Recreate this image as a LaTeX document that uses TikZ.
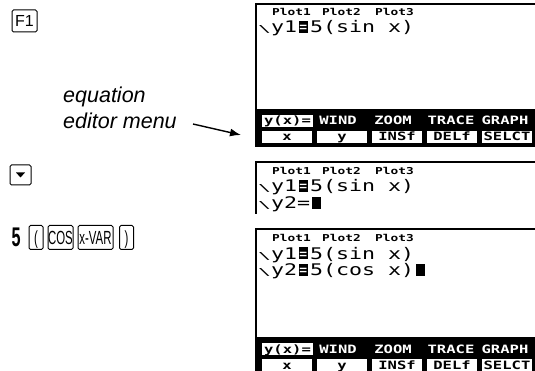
\documentclass[tikz,border=0pt]{standalone}
\usepackage{fontspec}
\usepackage{graphicx}
\setmainfont{Liberation Sans}
\newfontfamily\keyfont[FakeStretch=0.6]{Liberation Sans}
\newfontfamily\lcdfont[FakeStretch=1.35]{DejaVu Sans Mono}
\usetikzlibrary{arrows.meta}
\newcommand\slsh{\scalebox{1}[0.6]{\textbackslash}}
\newcommand\hleq{\rlap{\setlength{\fboxsep}{0pt}\hspace{0.1em}\colorbox{black}{\makebox[0.55em]{\textcolor{white}{\scalebox{0.6}[1]{=}}}\rule{0pt}{0.73em}}}\phantom{=}}
\newcommand\blk{\rlap{\hspace{0.1em}\rule{0.55em}{0.73em}}\phantom{=}}
\begin{document}
\begin{tikzpicture}[x=1pt,y=-1pt,
	key/.style={draw,line width=1pt,rounded corners=1.5pt,inner sep=0pt,minimum height=24pt,
		text height=13.6pt,text depth=0pt,font=\keyfont\fontsize{19}{19}\selectfont},
	scr/.style={line width=1.5pt},
	lcd/.style={anchor=base west,inner sep=0pt,font=\lcdfont\fontsize{16}{16}\selectfont},
	plot/.style={anchor=base west,inner sep=0pt,font=\lcdfont\bfseries\fontsize{9.5}{9.5}\selectfont},
	menu/.style={inner sep=0pt,text height=8pt,text depth=0pt,font=\lcdfont\bfseries\fontsize{11.5}{11.5}\selectfont}]
	\useasboundingbox (0,0) rectangle (535,371);
	\clip (0,0) rectangle (535,371);
	% keys on the left
	\node[key,minimum width=25pt,minimum height=22pt,text height=11.5pt,font=\fontsize{16}{16}\selectfont] (fone) at (24.5,21) {F1};
	\node[key,minimum width=21pt,minimum height=20pt] (down) at (20.5,175) {};
	\fill ([shift={(-4.5,-2.5)}]down.center) -- ++(9,0) -- ++(-4.5,5) -- cycle;
	\node[anchor=base west,inner sep=0pt,font=\keyfont\bfseries\fontsize{27}{27}\selectfont] (five) at (11.5,247) {5};
	\foreach \n/\x/\w/\t in {lpar/36/14/(,cos/60.5/25/COS,xvar/95.5/35/x-VAR,rpar/126.5/14/)}
	\node[key,minimum width=\w pt] (\n) at (\x,237.5) {\t};
	% label and arrow
	\node[anchor=north west,inner sep=0pt,align=left,font=\itshape\fontsize{21.5}{26}\selectfont] (eqlabel) at (63,86.5) {equation\\editor menu};
	\coordinate (arrowtail) at (193,124);
	\coordinate (menutip) at (241,135);
	\draw[-{Latex[length=11pt,width=8pt]},line width=1.4pt] (arrowtail) -- (menutip);
	% screens
	\draw[scr] (535,4) -- (256,4) -- (256,147);
	\draw[scr] (535,162) -- (256,162) -- (256,214);
	\draw[scr] (535,229) -- (256,229) -- (256,371);
	\foreach \s/\y in {1/16,2/175,3/242}
	\foreach \p/\x in {1/272,2/322,3/375}
	\node[plot] (plot\s-\p) at (\x,\y) {Plot\p};
	\node[lcd] (sonea) at (258,33) {\slsh y1\hleq5(sin x)};
	\node[lcd] (stwoa) at (258,192) {\slsh y1\hleq5(sin x)};
	\node[lcd] (stwob) at (258,209) {\slsh y2=\blk};
	\node[lcd] (sthreea) at (258,259) {\slsh y1\hleq5(sin x)};
	\node[lcd] (sthreeb) at (258,276) {\slsh y2\hleq5(cos x)\blk};
	% menu bars
	\foreach \m in {109,337} {
		\fill (256,\m) rectangle (535,\m+38);
		\fill[white] (262,\m+6) rectangle (313,\m+18);
		\node[menu] (yx\m) at (287.5,\m+12) {y(x)=};
		\foreach \t/\cx in {WIND/338,ZOOM/393,TRACE/451,GRAPH/505}
		\node[menu,text=white] (\t\m) at (\cx,\m+12) {\t};
		\foreach \t/\i in {x/0,y/1,INSf/2,DELf/3,SELCT/4} {
			\fill[white] (262+55*\i,\m+22) rectangle (312+55*\i,\m+34);
			\node[menu] (\t\m) at (287+55*\i,\m+28) {\t};
		}
	}
\end{tikzpicture}
\end{document}
